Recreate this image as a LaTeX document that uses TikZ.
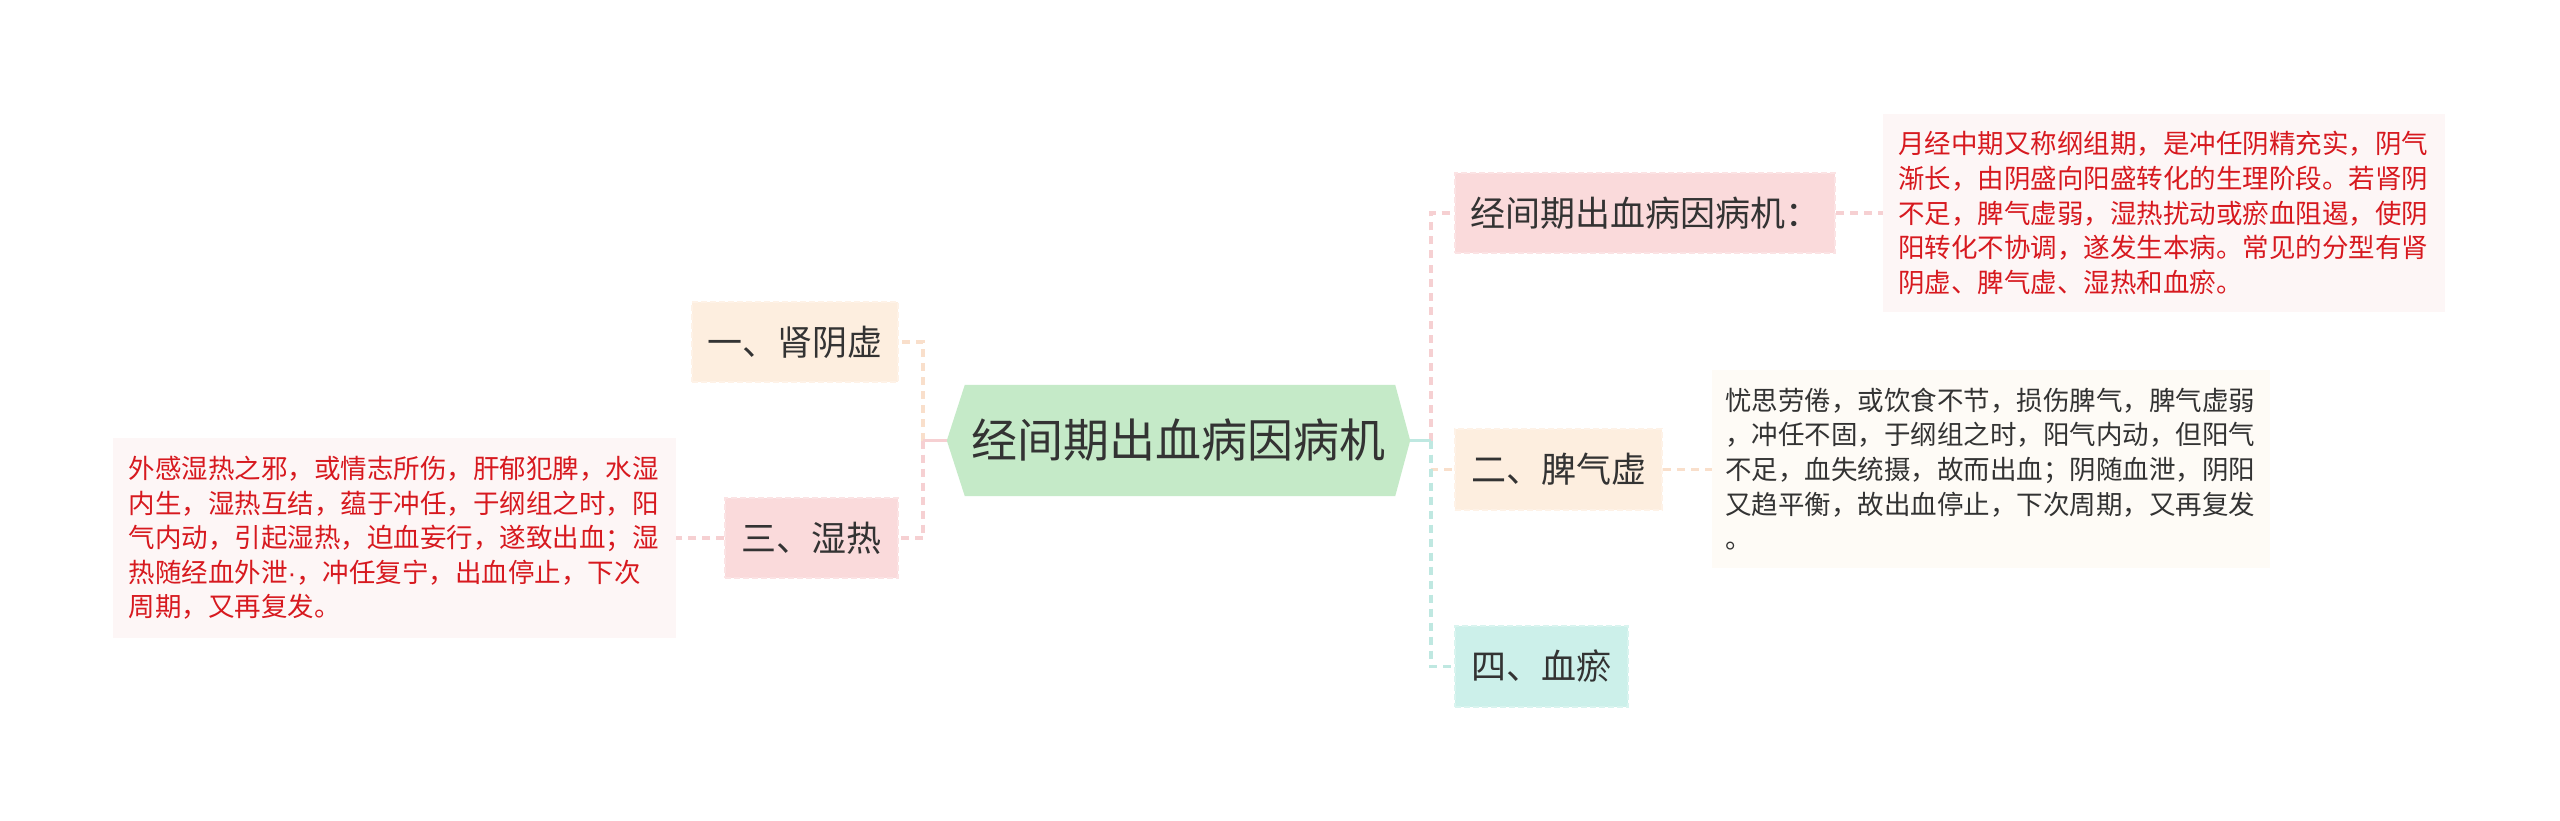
\documentclass[tikz,border=0pt]{standalone}
\usepackage{fontspec}
\setmainfont{Noto Sans CJK SC}
\newfontfamily\latinf{Liberation Sans}
\usetikzlibrary{backgrounds}
\definecolor{pinkf}{HTML}{FADADB}
\definecolor{peachf}{HTML}{FDEEDF}
\definecolor{tealf}{HTML}{CCF0EA}
\definecolor{greenf}{HTML}{C5EAC8}
\definecolor{notepink}{HTML}{FDF6F6}
\definecolor{notecream}{HTML}{FEFBF6}
\definecolor{redtxt}{HTML}{D7191F}
\definecolor{darktxt}{HTML}{333333}
\definecolor{pinkl}{HTML}{F6D0D2}
\definecolor{peachl}{HTML}{F9DFCB}
\definecolor{teall}{HTML}{BFE8E1}
\tikzset{
  branchbox/.style={rectangle, inner sep=0pt, fill=#1, draw=#1!75!white,
    line width=2pt, dash pattern=on 6pt off 3pt, text=darktxt,
    font=\fontsize{35}{40}\selectfont},
  notebox/.style={rectangle, inner ysep=0pt, fill=#1, align=left,
    text width=532pt, font=\fontsize{26.5}{34.6}\selectfont},
  cline/.style={draw=#1, line width=3.5pt, dash pattern=on 8pt off 6pt},
  sline/.style={draw=#1, line width=3.5pt}
}
\begin{document}
\begin{tikzpicture}[x=1pt,y=-1pt]
\useasboundingbox (0,0) rectangle (2560,821);

% central node
\node[rectangle, inner sep=0pt, minimum width=463pt, minimum height=111pt,
      text=darktxt, font=\fontsize{46}{52}\selectfont] (c) at (1178.5,440.5) {经间期出血病因病机};

% branch nodes
\node[branchbox=peachf, minimum width=206pt, minimum height=80pt] (n1) at (795,342) {一、肾阴虚};
\node[branchbox=pinkf, minimum width=173pt, minimum height=80pt] (n3) at (811.5,538) {三、湿热};
\node[branchbox=pinkf, minimum width=380pt, minimum height=80pt] (r0) at (1645,213) {经间期出血病因病机：};
\node[branchbox=peachf, minimum width=207pt, minimum height=81pt] (n2) at (1558.5,469.5) {二、脾气虚};
\node[branchbox=tealf, minimum width=173pt, minimum height=81pt] (n4) at (1541.5,666.5) {四、血瘀};

% note nodes
\node[notebox=notepink, text=redtxt, inner xsep=15pt, minimum height=198pt] (t0) at (2164,213)
{月经中期又称纲组期，是冲任阴精充实，阴气\\
渐长，由阴盛向阳盛转化的生理阶段。若肾阴\\
不足，脾气虚弱，湿热扰动或瘀血阻遏，使阴\\
阳转化不协调，遂发生本病。常见的分型有肾\\
阴虚、脾气虚、湿热和血瘀。};

\node[notebox=notecream, text=darktxt, inner xsep=13pt, minimum height=198pt] (t2) at (1991,469)
{忧思劳倦，或饮食不节，损伤脾气，脾气虚弱\\
，冲任不固，于纲组之时，阳气内动，但阳气\\
不足，血失统摄，故而出血；阴随血泄，阴阳\\
又趋平衡，故出血停止，下次周期，又再复发\\
。};

\node[notebox=notepink, text=redtxt, inner xsep=15.5pt, minimum height=200pt] (t3) at (394.5,538)
{外感湿热之邪，或情志所伤，肝郁犯脾，水湿\\
内生，湿热互结，蕴于冲任，于纲组之时，阳\\
气内动，引起湿热，迫血妄行，遂致出血；湿\\
热随经血外泄{\latinf ·}，冲任复宁，出血停止，下次\\
周期，又再复发。};

\coordinate (jl) at (923,440.5);
\coordinate (jr) at (1431,440.5);

\begin{scope}[on background layer]
\fill[white] (0,0) rectangle (2560,821);
\fill[greenf] (c.west) -- ([xshift=18pt]c.north west) -- ([xshift=-15pt]c.north east)
  -- (c.east) -- ([xshift=-15pt]c.south east) -- ([xshift=18pt]c.south west) -- cycle;
% left connectors
\draw[cline=peachl] (jl) |- (n1.east);
\draw[cline=pinkl] (jl) |- (n3.east);
\draw[sline=pinkl] (c.west) -- (jl);
% right connectors
\draw[cline=pinkl] (jr) |- (r0.west);
\draw[cline=peachl] (jr) |- (n2.west);
\draw[cline=teall] (jr) |- (n4.west);
\draw[sline=teall] (c.east) -- (jr);
% note connectors
\draw[cline=pinkl] (r0.east) -- (t0.west |- r0.east);
\draw[cline=peachl] (n2.east) -- (t2.west |- n2.east);
\draw[cline=pinkl] (n3.west) -- (t3.east |- n3.west);
\end{scope}
\end{tikzpicture}
\end{document}
